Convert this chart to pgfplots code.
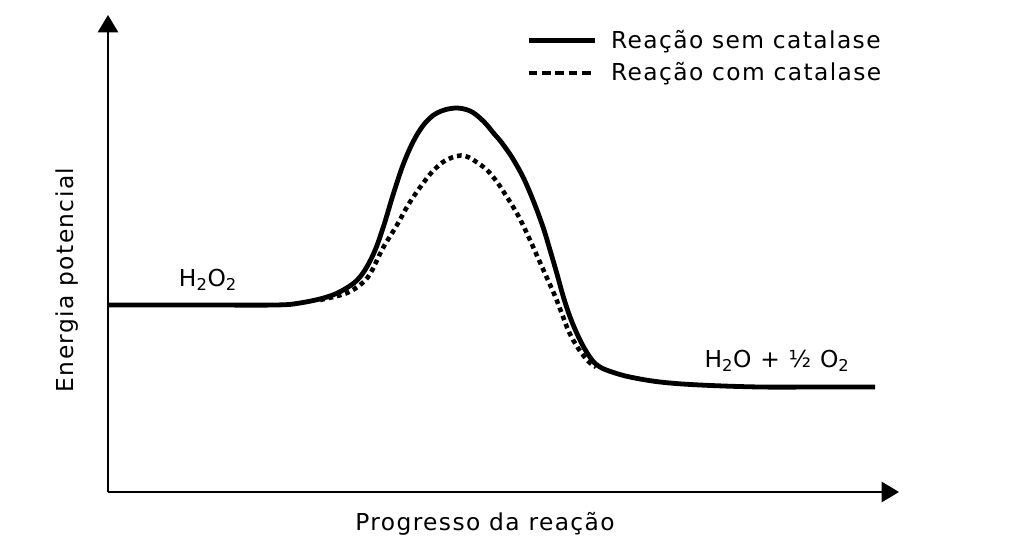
\documentclass[border=0pt]{standalone}
\usepackage{pgfplots}
\pgfplotsset{compat=1.18}
\usetikzlibrary{arrows.meta}
\usepackage{fontspec}
\setmainfont{DejaVu Sans}[LetterSpace=6]

% pixel grid of the reference: 1px = 0.75pt, y counted from the bottom
\pgfplotstableread{
x y
108 245
200 245
275 245
300 247
327 253
345 261
360 273
373 295
383 322
393 355
403 385
413 408
422 423
430 432
437 437
446 440.5
457 442
466 440.5
473 437.5
480 432
487 425
493 417.5
500 409.5
507 400
513 391
523 373
533 350
543 323
550 300
557 276
564 251
572 228
582 206
592 190
600 183
612 178
630 173
660 168
700 165
760 163
820 163
875 163
}\semcat

\pgfplotstableread{
x y
320 250
333 253
347 257
360 265
370 276
383 302
397 325
410 348
427 372
436 382
443 388
452 392.5
461 394.5
468 393
475 389
487 380
497 368
505 356
512 345
520 331
530 310
538 292
547 272
555 254
562 236
569 218
578 202
588 189
596 183
}\comcat

\begin{document}
\begin{tikzpicture}
\begin{axis}[
	scale only axis,
	width=593.25pt,
	height=357.75pt,
	xmin=108, xmax=899,
	ymin=58, ymax=535,
	axis lines=left,
	axis line style={line width=2pt, -{Triangle[width=15pt,length=13pt]}},
	xtick=\empty, ytick=\empty,
	clip=false,
	font=\fontsize{17.5}{20}\selectfont,
	legend style={at={(axis cs:522,525)}, anchor=north west, draw=none, fill=none,
		font=\fontsize{17.5}{20}\selectfont, row sep=5pt},
	legend cell align=left,
	legend image code/.code={\draw[#1] (0pt,0pt) -- (50pt,0pt); \path (58pt,0pt);},
]
\addplot[line width=3.6pt, smooth, tension=0.6] table {\semcat};
\addplot[line width=3.4pt, dash pattern=on 3.5pt off 3pt, smooth, tension=0.6,
	legend image code/.code={\draw[line width=3.4pt, dash pattern=on 6.5pt off 3.5pt]
		(0pt,0pt) -- (50pt,0pt); \path (58pt,0pt);}] table {\comcat};
\legend{Reação sem catalase, Reação com catalase}

\node at (axis cs:208,270) {H\textsubscript{2}O\textsubscript{2}};
\node at (axis cs:777,189) {H\textsubscript{2}O + ½ O\textsubscript{2}};
\node at (axis cs:485,26) {Progresso da reação};
\node[rotate=90] at (axis cs:67,270) {Energia potencial};
\path (axis cs:0,0) rectangle (axis cs:1034,550);
\end{axis}
\end{tikzpicture}
\end{document}
